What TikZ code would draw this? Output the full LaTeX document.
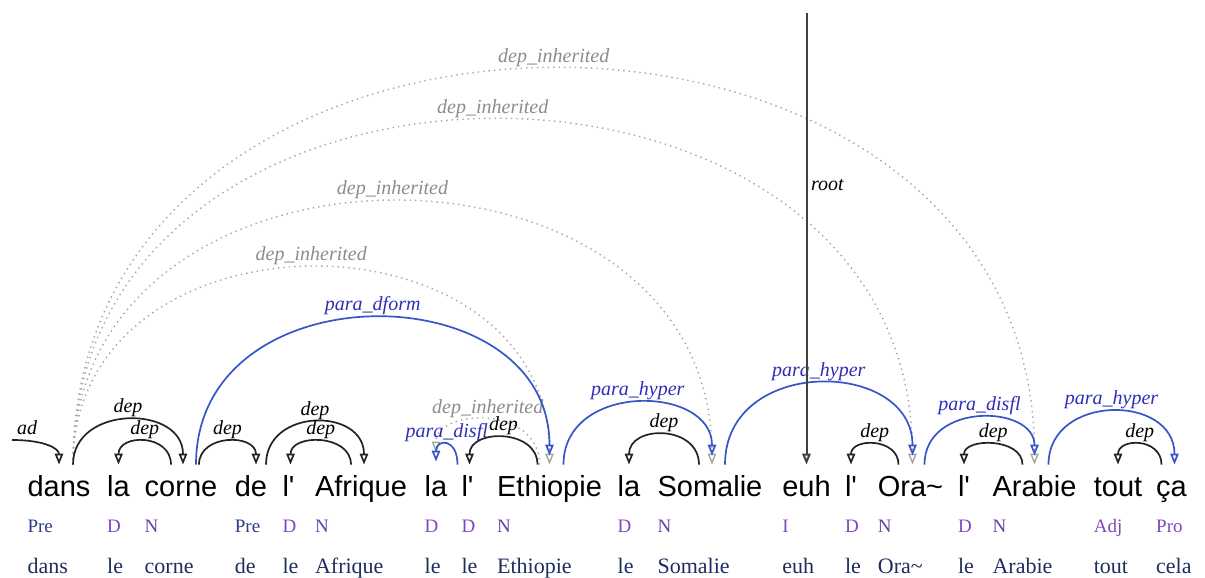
\documentclass[tikz,border=0pt]{standalone}
\usepackage{fontspec}
\setmainfont{Liberation Serif}
\newfontfamily\wordfont{Liberation Sans}
\usetikzlibrary{arrows.meta,positioning}
\definecolor{deparc}{RGB}{35,35,35}
\definecolor{paraarc}{RGB}{55,85,200}
\definecolor{paratext}{RGB}{45,45,185}
\definecolor{inharc}{RGB}{165,165,165}
\definecolor{inhtext}{RGB}{140,140,140}
\definecolor{posdark}{RGB}{45,60,130}
\definecolor{posD}{RGB}{130,70,190}
\definecolor{posN}{RGB}{100,65,170}
\definecolor{lemmacol}{RGB}{30,45,95}

\begin{document}
\begin{tikzpicture}[x=0.5pt,y=-0.5pt,
word/.style={anchor=base,inner sep=0pt,text height=15.5pt,text depth=3pt,font=\wordfont\fontsize{14.5}{17}\selectfont},
postag/.style={anchor=base west,inner sep=0pt,font=\fontsize{9.5}{11}\selectfont},
lemma/.style={anchor=base west,inner sep=0pt,text=lemmacol,font=\fontsize{11}{13}\selectfont},
dep/.style={draw=deparc,line width=0.85pt,-{Triangle[open,length=5.5pt,width=4.2pt]}},
para/.style={draw=paraarc,line width=0.85pt,-{Triangle[open,length=5.5pt,width=4.2pt]}},
inh/.style={draw=inharc,line width=0.7pt,dotted,-{Triangle[open,length=5.5pt,width=4.2pt]}},
deplab/.style={above,inner sep=0.8pt,text=black,font=\itshape\fontsize{10}{12}\selectfont},
paralab/.style={above,inner sep=0.8pt,text=paratext,font=\itshape\fontsize{10}{12}\selectfont},
inhlab/.style={above,inner sep=0.8pt,text=inhtext,font=\itshape\fontsize{10}{12}\selectfont}]
\useasboundingbox (0,0) rectangle (1205,578);
\node[word] (W1) at (59,496) {dans};
\node[word] (W2) at (118.5,496) {la};
\node[word] (W3) at (181,496) {corne};
\node[word] (W4) at (251,496) {de};
\node[word] (W5) at (288.5,496) {l\textquotesingle};
\node[word] (W6) at (361,496) {Afrique};
\node[word] (W7) at (436,496) {la};
\node[word] (W8) at (467.5,496) {l\textquotesingle};
\node[word] (W9) at (549.5,496) {Ethiopie};
\node[word] (W10) at (629,496) {la};
\node[word] (W11) at (710,496) {Somalie};
\node[word] (W12) at (806.5,496) {euh};
\node[word] (W13) at (851,496) {l\textquotesingle};
\node[word] (W14) at (910.5,496) {Ora\textasciitilde};
\node[word] (W15) at (964,496) {l\textquotesingle};
\node[word] (W16) at (1034.5,496) {Arabie};
\node[word] (W17) at (1118,496) {tout};
\node[word] (W18) at (1171.5,496) {ça};
\node[postag,text=posdark] (P1) at ([yshift=-18pt]W1.base west) {Pre};
\node[postag,text=posD] (P2) at ([yshift=-18pt]W2.base west) {D};
\node[postag,text=posN] (P3) at ([yshift=-18pt]W3.base west) {N};
\node[postag,text=posdark] (P4) at ([yshift=-18pt]W4.base west) {Pre};
\node[postag,text=posD] (P5) at ([yshift=-18pt]W5.base west) {D};
\node[postag,text=posN] (P6) at ([yshift=-18pt]W6.base west) {N};
\node[postag,text=posD] (P7) at ([yshift=-18pt]W7.base west) {D};
\node[postag,text=posD] (P8) at ([yshift=-18pt]W8.base west) {D};
\node[postag,text=posN] (P9) at ([yshift=-18pt]W9.base west) {N};
\node[postag,text=posD] (P10) at ([yshift=-18pt]W10.base west) {D};
\node[postag,text=posN] (P11) at ([yshift=-18pt]W11.base west) {N};
\node[postag,text=posD] (P12) at ([yshift=-18pt]W12.base west) {I};
\node[postag,text=posD] (P13) at ([yshift=-18pt]W13.base west) {D};
\node[postag,text=posN] (P14) at ([yshift=-18pt]W14.base west) {N};
\node[postag,text=posD] (P15) at ([yshift=-18pt]W15.base west) {D};
\node[postag,text=posN] (P16) at ([yshift=-18pt]W16.base west) {N};
\node[postag,text=posD] (P17) at ([yshift=-18pt]W17.base west) {Adj};
\node[postag,text=posD] (P18) at ([yshift=-18pt]W18.base west) {Pro};
\node[lemma] (L1) at ([yshift=-38.5pt]W1.base west) {dans};
\node[lemma] (L2) at ([yshift=-38.5pt]W2.base west) {le};
\node[lemma] (L3) at ([yshift=-38.5pt]W3.base west) {corne};
\node[lemma] (L4) at ([yshift=-38.5pt]W4.base west) {de};
\node[lemma] (L5) at ([yshift=-38.5pt]W5.base west) {le};
\node[lemma] (L6) at ([yshift=-38.5pt]W6.base west) {Afrique};
\node[lemma] (L7) at ([yshift=-38.5pt]W7.base west) {le};
\node[lemma] (L8) at ([yshift=-38.5pt]W8.base west) {le};
\node[lemma] (L9) at ([yshift=-38.5pt]W9.base west) {Ethiopie};
\node[lemma] (L10) at ([yshift=-38.5pt]W10.base west) {le};
\node[lemma] (L11) at ([yshift=-38.5pt]W11.base west) {Somalie};
\node[lemma] (L12) at ([yshift=-38.5pt]W12.base west) {euh};
\node[lemma] (L13) at ([yshift=-38.5pt]W13.base west) {le};
\node[lemma] (L14) at ([yshift=-38.5pt]W14.base west) {Ora\textasciitilde};
\node[lemma] (L15) at ([yshift=-38.5pt]W15.base west) {le};
\node[lemma] (L16) at ([yshift=-38.5pt]W16.base west) {Arabie};
\node[lemma] (L17) at ([yshift=-38.5pt]W17.base west) {tout};
\node[lemma] (L18) at ([yshift=-38.5pt]W18.base west) {cela};
\coordinate (adfrom) at (12,440);
\coordinate (rootfrom) at (806.5,13);
\draw[inh] ([xshift=7pt]W1.north) .. controls +(0,-263) and +(0,-263) .. (W9.north) node[inhlab,midway]{dep\_inherited};
\draw[inh] ([xshift=7pt]W1.north) .. controls +(0,-351) and +(0,-351) .. ([xshift=1pt]W11.north) node[inhlab,midway]{dep\_inherited};
\draw[inh] ([xshift=7pt]W1.north) .. controls +(0,-460) and +(0,-460) .. ([xshift=1pt]W14.north) node[inhlab,midway]{dep\_inherited};
\draw[inh] ([xshift=7pt]W1.north) .. controls +(0,-528) and +(0,-528) .. (W16.north) node[inhlab,midway]{dep\_inherited};
\draw[inh] ([xshift=-5pt]W9.north) .. controls +(0,-60) and +(0,-44) .. ([yshift=6pt]W7.north) node[inhlab,midway]{dep\_inherited};
\draw[dep] (adfrom) .. controls (45,440) and ([yshift=8pt]W1.north) .. (W1.north) node[deplab,pos=0.17,yshift=2pt]{ad};
\draw[dep] ([xshift=7pt]W1.north) .. controls +(0,-60) and +(0,-60) .. ([xshift=1pt]W3.north) node[deplab,midway]{dep};
\draw[dep] ([xshift=-5pt]W3.north) .. controls +(0,-31) and +(0,-31) .. (W2.north) node[deplab,midway]{dep};
\draw[dep] ([xshift=9pt]W3.north) .. controls +(0,-31) and +(0,-31) .. ([xshift=2.5pt]W4.north) node[deplab,midway]{dep};
\draw[dep] ([xshift=7.5pt]W4.north) .. controls +(0,-57) and +(0,-57) .. ([xshift=1.5pt]W6.north) node[deplab,midway]{dep};
\draw[dep] ([xshift=-5pt]W6.north) .. controls +(0,-31) and +(0,-31) .. ([xshift=1pt]W5.north) node[deplab,midway]{dep};
\draw[dep] ([xshift=-6pt]W9.north) .. controls +(0,-36) and +(0,-36) .. ([xshift=1pt]W8.north) node[deplab,midway]{dep};
\draw[dep] ([xshift=-5.5pt]W11.north) .. controls +(0,-40) and +(0,-40) .. (W10.north) node[deplab,midway]{dep};
\draw[dep] ([xshift=-6pt]W14.north) .. controls +(0,-27) and +(0,-27) .. (W13.north) node[deplab,midway]{dep};
\draw[dep] ([xshift=-6pt]W16.north) .. controls +(0,-27) and +(0,-27) .. (W15.north) node[deplab,midway]{dep};
\draw[dep] ([xshift=-5pt]W18.north) .. controls +(0,-27) and +(0,-27) .. (W17.north) node[deplab,midway]{dep};
\draw[para] ([xshift=7.5pt]W3.north) .. controls +(0,-196) and +(0,-184) .. ([yshift=4.5pt]W9.north) node[paralab,midway]{para\_dform};
\draw[para] ([xshift=-5pt]W8.north) .. controls +(0,-27) and +(0,-23) .. ([yshift=1.5pt]W7.north) node[paralab,midway]{para\_disfl};
\draw[para] ([xshift=7pt]W9.north) .. controls +(0,-83) and +(0,-71) .. ([xshift=1pt,yshift=4.5pt]W11.north) node[paralab,midway]{para\_hyper};
\draw[para] ([xshift=7.5pt]W11.north) .. controls +(0,-109) and +(0,-97) .. ([xshift=1pt,yshift=4.5pt]W14.north) node[paralab,midway]{para\_hyper};
\draw[para] ([xshift=7pt]W14.north) .. controls +(0,-63) and +(0,-51) .. ([yshift=4.5pt]W16.north) node[paralab,midway]{para\_disfl};
\draw[para] ([xshift=7pt]W16.north) .. controls +(0,-71) and +(0,-71) .. ([xshift=1.5pt]W18.north) node[paralab,midway]{para\_hyper};
\draw[dep,line width=1pt,draw=black!75] (rootfrom) -- (W12.north) node[deplab,pos=0.38,anchor=west,xshift=1pt]{root};
\end{tikzpicture}
\end{document}
